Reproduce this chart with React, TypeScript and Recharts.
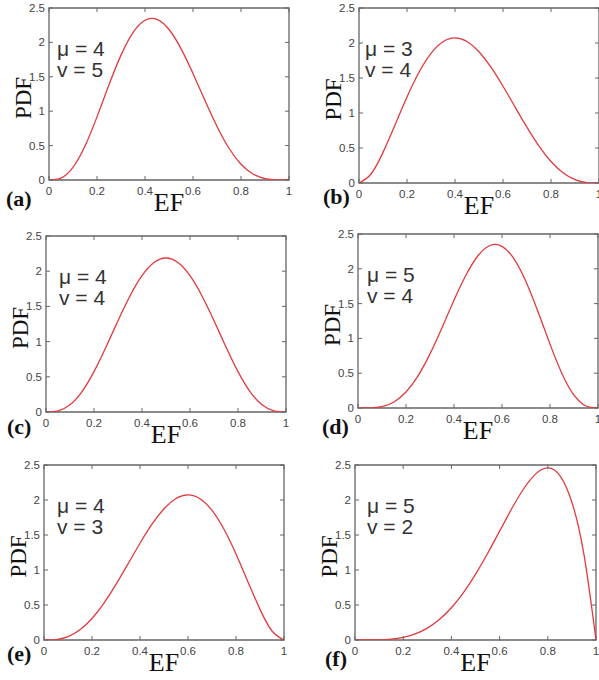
import React from 'react';
import { LineChart, Line, XAxis, YAxis, ReferenceArea, Label } from 'recharts';

// ---- data ----
const EF_GRID = [0, 0.05, 0.1, 0.15, 0.2, 0.25, 0.3, 0.35, 0.4, 0.45, 0.5, 0.55, 0.6, 0.65, 0.7, 0.75, 0.8, 0.85, 0.9, 0.95, 1];
const PDF_A = [0, 0.0285, 0.1837, 0.4933, 0.9175, 1.3843, 1.8152, 2.143, 2.3224, 2.3348, 2.1875, 1.9103, 1.5483, 1.1539, 0.7779, 0.4614, 0.2294, 0.0871, 0.0204, 0.0015, 0];
const PDF_B = [0, 0.1286, 0.4374, 0.8291, 1.2288, 1.582, 1.8522, 2.0185, 2.0736, 2.0215, 1.875, 1.6539, 1.3824, 1.0869, 0.7938, 0.5273, 0.3072, 0.1463, 0.0486, 0.0068, 0];
const PDF_C = [0, 0.015, 0.1021, 0.2902, 0.5734, 0.9229, 1.2965, 1.6485, 1.9354, 2.1225, 2.1875, 2.1225, 1.9354, 1.6485, 1.2965, 0.9229, 0.5734, 0.2902, 0.1021, 0.015, 0];
const PDF_D = [0, 0.0015, 0.0204, 0.0871, 0.2294, 0.4614, 0.7779, 1.1539, 1.5483, 1.9103, 2.1875, 2.3348, 2.3224, 2.143, 1.8152, 1.3843, 0.9175, 0.4933, 0.1837, 0.0285, 0];
const PDF_E = [0, 0.0068, 0.0486, 0.1463, 0.3072, 0.5273, 0.7938, 1.0869, 1.3824, 1.6539, 1.875, 2.0215, 2.0736, 2.0185, 1.8522, 1.582, 1.2288, 0.8291, 0.4374, 0.1286, 0];
const PDF_F = [0, 0.0002, 0.0027, 0.0129, 0.0384, 0.0879, 0.1701, 0.2926, 0.4608, 0.6766, 0.9375, 1.2353, 1.5552, 1.8743, 2.1609, 2.373, 2.4576, 2.349, 1.9683, 1.2218, 0];

const PANEL_IDS = ['a', 'b', 'c', 'd', 'e', 'f'];
const MU_VALUES = [4, 3, 4, 5, 4, 5];
const V_VALUES = [5, 4, 4, 4, 3, 2];
const SERIES = [PDF_A, PDF_B, PDF_C, PDF_D, PDF_E, PDF_F];

const X_TICKS = [0, 0.2, 0.4, 0.6, 0.8, 1];
const X_TICK_LABELS = ['0', '0.2', '0.4', '0.6', '0.8', '1'];
const Y_TICKS = [0, 0.5, 1, 1.5, 2, 2.5];
const Y_TICK_LABELS = ['0', '0.5', '1', '1.5', '2', '2.5'];

const X_LABEL = 'EF';
const Y_LABEL = 'PDF';

// ---- layout (pixel positions of each plot box) ----
const LAYOUT = [
  { left: 49, top: 8, w: 240, h: 172, letterX: 6, letterY: 206, txt: 8 },
  { left: 359, top: 8, w: 240, h: 175, letterX: 323, letterY: 204, txt: 6 },
  { left: 46, top: 236, w: 240, h: 176, letterX: 7, letterY: 434, txt: 13 },
  { left: 358, top: 234, w: 240, h: 174, letterX: 322, letterY: 434, txt: 9 },
  { left: 44, top: 465, w: 240, h: 175, letterX: 7, letterY: 661, txt: 13 },
  { left: 355, top: 465, w: 241, h: 175, letterX: 325, letterY: 666, txt: 12 },
];

const Y_AXIS_W = 50;
const TOP_M = 8;
const RIGHT_M = 12;
const X_AXIS_H = 45;

const SANS = "'Liberation Sans', Arial, Helvetica, sans-serif";
const SERIF = "'Liberation Serif', 'Times New Roman', Times, serif";
const TICK_COLOR = '#666';
const TICK_TEXT = '#444';
const CURVE = '#e23a3f';

const XTick = (props: any) => {
  const { x, y, payload, ph } = props;
  const i = X_TICKS.indexOf(payload.value);
  return (
    <g>
      <line x1={x} x2={x} y1={y} y2={y - 4} stroke={TICK_COLOR} strokeWidth={1} />
      <line x1={x} x2={x} y1={y - ph} y2={y - ph + 4} stroke={TICK_COLOR} strokeWidth={1} />
      <text x={x} y={y + 15} textAnchor="middle" fontFamily={SANS} fontSize={11.5} fill={TICK_TEXT}>
        {X_TICK_LABELS[i]}
      </text>
    </g>
  );
};

const YTick = (props: any) => {
  const { x, y, payload, pw } = props;
  const i = Y_TICKS.indexOf(payload.value);
  return (
    <g>
      <line x1={x} x2={x + 4} y1={y} y2={y} stroke={TICK_COLOR} strokeWidth={1} />
      <line x1={x + pw} x2={x + pw - 4} y1={y} y2={y} stroke={TICK_COLOR} strokeWidth={1} />
      <text x={x - 4} y={y + 4} textAnchor="end" fontFamily={SANS} fontSize={11.5} fill={TICK_TEXT}>
        {Y_TICK_LABELS[i]}
      </text>
    </g>
  );
};

function Panel({ idx }: { idx: number }) {
  const lay = LAYOUT[idx];
  const values = SERIES[idx];
  const data = EF_GRID.map((ef, i) => ({ ef, pdf: values[i] }));
  const W = Y_AXIS_W + lay.w + RIGHT_M;
  const H = TOP_M + lay.h + X_AXIS_H;
  return (
    <div style={{ position: 'absolute', left: lay.left - Y_AXIS_W, top: lay.top - TOP_M }}>
      <LineChart width={W} height={H} data={data} margin={{ top: TOP_M, right: RIGHT_M, left: 0, bottom: 0 }}>
        <XAxis
          type="number"
          dataKey="ef"
          domain={[0, 1]}
          ticks={X_TICKS}
          height={X_AXIS_H}
          axisLine={false}
          tickLine={false}
          tickSize={0}
          tickMargin={0}
          interval={0}
          tick={(p: any) => <XTick {...p} ph={lay.h} />}
        >
          <Label
            value={X_LABEL}
            position="insideTop"
            offset={13}
            fontFamily={SERIF}
            fontSize={26}
            fill="#111"
          />
        </XAxis>
        <YAxis
          type="number"
          domain={[0, 2.5]}
          ticks={Y_TICKS}
          width={Y_AXIS_W}
          axisLine={false}
          tickLine={false}
          tickSize={0}
          tickMargin={0}
          interval={0}
          allowDataOverflow
          tick={(p: any) => <YTick {...p} pw={lay.w} />}
        >
          <Label
            value={Y_LABEL}
            position="center"
            angle={-90}
            dx={-1}
            dy={4}
            fontFamily={SERIF}
            fontSize={23}
            fill="#111"
          />
        </YAxis>
        <ReferenceArea x1={0} x2={1} y1={0} y2={2.5} fill="none" stroke="#666" strokeWidth={1.3} fillOpacity={0} />
        <Line
          type="natural"
          dataKey="pdf"
          stroke={CURVE}
          strokeWidth={1.3}
          dot={false}
          isAnimationActive={false}
        />
      </LineChart>
    </div>
  );
}

export default function App() {
  return (
    <div
      style={{
        position: 'absolute',
        left: 0,
        top: 0,
        width: 599,
        height: 680,
        overflow: 'hidden',
        background: '#fff',
      }}
    >
      {PANEL_IDS.map((id, i) => (
        <Panel key={id} idx={i} />
      ))}
      <svg width={599} height={680} style={{ position: 'absolute', left: 0, top: 0, pointerEvents: 'none' }}>
        {PANEL_IDS.map((id, i) => {
          const lay = LAYOUT[i];
          return (
            <g key={id}>
              <text x={lay.left + lay.txt} y={lay.top + 48} fontFamily={SANS} fontSize={21} fill="#333">
                {`μ = ${MU_VALUES[i]}`}
              </text>
              <text x={lay.left + lay.txt} y={lay.top + 69} fontFamily={SANS} fontSize={21} fill="#333">
                {`v = ${V_VALUES[i]}`}
              </text>
              <text x={lay.letterX} y={lay.letterY} fontFamily={SERIF} fontWeight="bold" fontSize={22} fill="#111">
                {`(${id})`}
              </text>
            </g>
          );
        })}
      </svg>
    </div>
  );
}
